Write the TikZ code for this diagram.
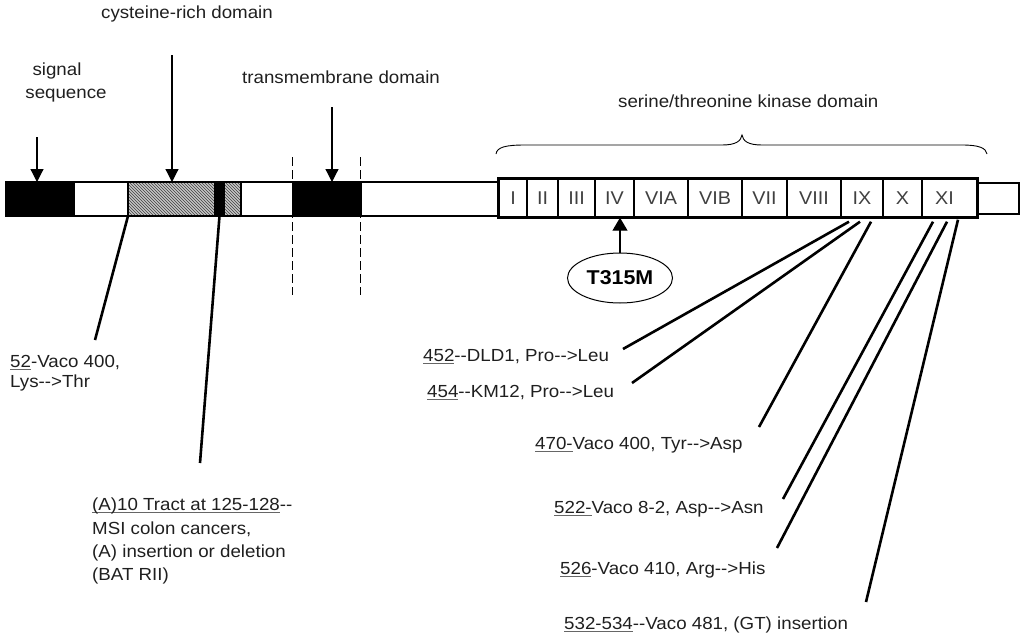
\documentclass[tikz,border=0pt]{standalone}
\usepackage{fontspec}
\setmainfont{Liberation Sans}[FakeStretch=1.07,Ligatures=TeXOff]
\usetikzlibrary{arrows.meta,patterns,shapes.geometric,calc}
\newcommand\uln[1]{\setbox0\hbox{#1}\rlap{\color{black!60}\rule[-3.2pt]{\wd0}{0.9pt}}#1}
\begin{document}
\begin{tikzpicture}[x=1pt,y=-1pt,
  lbl/.style={font=\fontsize{17.5}{21}\selectfont, inner sep=0pt, text=black!88},
  kbox/.style={draw, line width=1.4pt, minimum height=38pt, inner sep=0pt,
    font=\fontsize{18.5}{20}\selectfont, text=black!75},
  seg/.style={inner sep=0pt, outer sep=0pt, minimum height=34pt},
  blackseg/.style={seg, fill=black},
  hatchseg/.style={seg, draw, line width=1.5pt, preaction={fill=gray!45},
    pattern=north west lines, pattern color=black!75},
  conn/.style={line width=2.6pt},
  darr/.style={line width=1.2pt, -{Triangle[width=13pt,length=13pt]}},
  vdash/.style={line width=0.9pt, dash pattern=on 9pt off 4pt},
  brace/.style={line width=0.9pt},
]
\useasboundingbox (0,0) rectangle (1026,635);

% ---- main bar ----
\node[seg, minimum width=493pt, anchor=west] (bar) at (6,199) {};
\node[blackseg, minimum width=69pt] (sigseg) at (40.5,199) {};
\node[hatchseg, minimum width=87pt] (crd1) at (171.5,199) {};
\node[hatchseg, minimum width=17pt] (crd2) at (232.5,199) {};
\node[blackseg, minimum width=9pt] (crdb) at (219.5,199) {};
\node[blackseg, minimum width=70pt] (tmseg) at (327,199) {};
\draw[line width=2.5pt] (bar.north west) rectangle (bar.south east);

% dashed membrane lines
\coordinate (d1t) at (292,157); \coordinate (d1b) at (292,295);
\coordinate (d2t) at (360,157); \coordinate (d2b) at (360,295);
\draw[vdash] (d1t) -- (d1b);
\draw[vdash] (d2t) -- (d2b);

% ---- kinase subdomains ----
\node[kbox, minimum width=28pt] (k1) at (513,198) {I};
\node[kbox, minimum width=31pt] (k2) at (542.5,198) {II};
\node[kbox, minimum width=37pt] (k3) at (576.5,198) {III};
\node[kbox, minimum width=39pt] (k4) at (614.5,198) {IV};
\node[kbox, minimum width=54pt] (k5) at (661,198) {VIA};
\node[kbox, minimum width=54pt] (k6) at (715,198) {VIB};
\node[kbox, minimum width=45pt] (k7) at (764.5,198) {VII};
\node[kbox, minimum width=54pt] (k8) at (814,198) {VIII};
\node[kbox, minimum width=42pt] (k9) at (862,198) {IX};
\node[kbox, minimum width=39pt] (k10) at (902.5,198) {X};
\node[kbox, minimum width=55pt] (k11) at (949.5,198) {\hspace*{-10pt}XI};
\draw[line width=2.5pt] (k1.north west) rectangle (k11.south east);
\node[draw, line width=2.5pt, minimum width=42pt, minimum height=31pt, inner sep=0pt] (kend) at (998,198.5) {};

% brace
\draw[brace] (496,154) .. controls (497,147) and (506,145) .. (525,145)
  -- (722,145) .. controls (736,145) and (741,141) .. (742,135)
  .. controls (743,141) and (748,145) .. (762,145)
  -- (962,145) .. controls (979,145) and (986,148) .. (987,154);

% ---- domain labels and arrows ----
\node[lbl, anchor=base] (cyslbl) at (187,18) {cysteine-rich domain};
\node[lbl, anchor=base] (siglbl1) at (57,75) {signal};
\node[lbl, anchor=base] (siglbl2) at (66,98) {sequence};
\node[lbl, anchor=base west] (tmlbl) at (242,83) {transmembrane domain};
\node[lbl, anchor=base west] (kinlbl) at (618,107) {serine/threonine kinase domain};

\coordinate (sigtop) at (37,137);
\coordinate (cystop) at (172,55);
\coordinate (tmtop) at (332,107);
\draw[darr] (sigtop) -- (sigtop |- sigseg.north);
\draw[darr] (cystop) -- (cystop |- crd1.north);
\draw[darr] (tmtop) -- (tmtop |- tmseg.north);

% T315M
\node[ellipse, draw, line width=1pt, minimum width=105pt, minimum height=50pt,
  inner sep=0pt, font=\bfseries\fontsize{20}{22}\selectfont] (t315) at (620,278) {T315M};
\draw[line width=1.2pt, -{Triangle[width=15pt,length=13pt]}] (t315.north) -- (t315.north |- k4.south);

% ---- left mutation labels ----
\node[lbl, anchor=base west] (l52a) at (10,367) {\uln{52}-Vaco 400,};
\node[lbl, anchor=base west] (l52b) at (10,387) {Lys-->Thr};
\node[lbl, anchor=base west] (la1) at (92,510) {\uln{(A)10 Tract at 125-128}--};
\node[lbl, anchor=base west] (la2) at (92,534) {MSI colon cancers,};
\node[lbl, anchor=base west] (la3) at (92,557) {(A) insertion or deletion};
\node[lbl, anchor=base west] (la4) at (92,580) {(BAT RII)};

\coordinate (e52) at (95,340);
\coordinate (eA10) at (200,463);
\draw[conn] (crd1.south west) -- (e52);
\draw[conn] (crdb.south) -- (eA10);

% ---- right mutation labels ----
\node[lbl, anchor=base west] (m452) at (423,361) {\uln{452}--DLD1, Pro-->Leu};
\node[lbl, anchor=base west] (m454) at (427,397) {\uln{454}--KM12, Pro-->Leu};
\node[lbl, anchor=base west] (m470) at (535,449) {\uln{470-}Vaco 400, Tyr-->Asp};
\node[lbl, anchor=base west] (m522) at (554,513) {\uln{522-}Vaco 8-2, Asp-->Asn};
\node[lbl, anchor=base west] (m526) at (560,574) {\uln{526}-Vaco 410, Arg-->His};
\node[lbl, anchor=base west] (m532) at (564,629) {\uln{532-534}--Vaco 481, (GT) insertion};

\coordinate (eA) at (623,349);
\coordinate (eB) at (632,383);
\coordinate (eC) at (759,427);
\coordinate (eD) at (783,499);
\coordinate (eE) at (777,548);
\coordinate (eF) at (866,602);
\draw[conn] ($(k9.south)+(-13,4)$) -- (eA);
\draw[conn] ($(k9.south)+(-2,4)$) -- (eB);
\draw[conn] ($(k9.south)+(9,4)$) -- (eC);
\draw[conn] ($(k11.south)+(-16.5,4)$) -- (eD);
\draw[conn] ($(k11.south)+(-2.5,4)$) -- (eE);
\draw[conn] ($(k11.south)+(8.5,2)$) -- (eF);
\end{tikzpicture}
\end{document}
